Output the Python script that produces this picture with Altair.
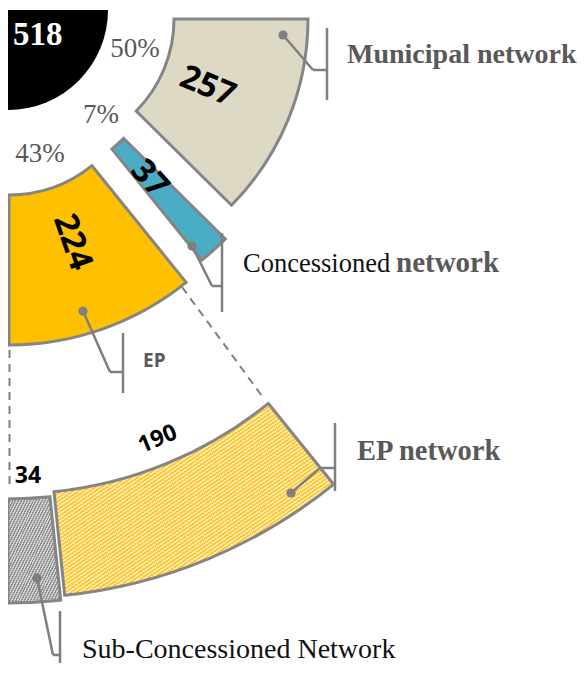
import math
import altair as alt
import pandas as pd

# ---------------- data ----------------
categories = ["Municipal network", "Concessioned network", "EP"]
values = [257, 37, 224]
ep_parts = ["EP network", "Sub-Concessioned Network"]
ep_part_values = [190, 34]

total = sum(values)
rows = []
acc = 0
for c, v in zip(categories, values):
    rows.append(dict(cat=c, value=v, start=acc / total, end=(acc + v) / total,
                     pct=f"{round(v / total * 100)}%"))
    acc += v
acc = rows[2]["start"] * total          # EP breakdown spans the EP slice
for c, v in zip(ep_parts, ep_part_values):
    rows.append(dict(cat=c, value=v, start=acc / total, end=(acc + v) / total, pct=""))
    acc += v
rows.append(dict(cat="Total", value=total, start=0.0, end=1.0, pct=""))
df = pd.DataFrame(rows)
df["mid"] = (df["start"] + df["end"]) / 2
df["label"] = df["value"].astype(str)
df["radial_angle"] = df["mid"] * 90                      # text along the radius
df["tangent_angle"] = (df["mid"] * 90 - 90) % 360         # text along the arc

# ---------------- styling ----------------
OFF = 8                      # page margin
W, H = 572, 655
STROKE = "#858585"
GREY_TXT = "#595959"
SERIF = "Liberation Serif"
SANS = "Open Sans"
theta_scale = alt.Scale(domain=[0, 1], range=[math.pi / 2, math.pi])
one = pd.DataFrame({"k": [0]})


def hatch(c1, c2, n):
    stops = []
    for i in range(n):
        a, b, c = i / n, (i + 0.5) / n, (i + 1) / n
        stops += [alt.GradientStop(offset=a, color=c1), alt.GradientStop(offset=b, color=c1),
                  alt.GradientStop(offset=b, color=c2), alt.GradientStop(offset=c, color=c2)]
    return alt.LinearGradient(gradient="linear", stops=stops, x1=0, y1=0, x2=1, y2=1)


def P(v):
    return v - OFF


def sector(cat, cx, cy, r_in, r_out, fill, stroke=STROKE, sw=3):
    return alt.Chart(df).transform_filter(alt.datum.cat == cat).mark_arc(
        innerRadius=r_in, outerRadius=r_out, fill=fill,
        stroke=stroke, strokeWidth=sw, strokeJoin="miter"
    ).encode(
        theta=alt.Theta("start:Q", scale=theta_scale, stack=None),
        theta2="end:Q",
        x=alt.value(P(cx)), y=alt.value(P(cy)),
    )


def value_label(cat, cx, cy, r, size, angle_field=None, color="black"):
    enc = dict(
        theta=alt.Theta("mid:Q", scale=theta_scale, stack=None),
        text="label:N",
        x=alt.value(P(cx)), y=alt.value(P(cy)),
    )
    if angle_field:
        enc["angle"] = alt.Angle(f"{angle_field}:Q", scale=None)
    return alt.Chart(df).transform_filter(alt.datum.cat == cat).mark_text(
        radius=r, font=SANS, fontWeight="bold", fontSize=size, color=color,
        align="center", baseline="middle"
    ).encode(**enc)


def field_text(cat, field, x, y, size, color, weight="normal", font=SERIF, align="center",
               baseline="middle"):
    return alt.Chart(df).transform_filter(alt.datum.cat == cat).mark_text(
        font=font, fontSize=size, color=color, fontWeight=weight, align=align, baseline=baseline
    ).encode(text=f"{field}:N", x=alt.value(P(x)), y=alt.value(P(y)))


def plain_text(txt, x, y, size, color, weight="normal", font=SERIF, align="left",
               baseline="alphabetic"):
    return alt.Chart(one).mark_text(
        text=txt, font=font, fontSize=size, color=color, fontWeight=weight,
        align=align, baseline=baseline
    ).encode(x=alt.value(P(x)), y=alt.value(P(y)))


def seg(x1, y1, x2, y2, dash=None, sw=2.5, color="#7F7F7F"):
    kw = dict(color=color, strokeWidth=sw)
    if dash:
        kw["strokeDash"] = dash
    return alt.Chart(one).mark_rule(**kw).encode(
        x=alt.value(P(x1)), y=alt.value(P(y1)), x2=alt.value(P(x2)), y2=alt.value(P(y2)))


def dot(x, y):
    return alt.Chart(one).mark_circle(size=85, color="#7F7F7F", opacity=1).encode(
        x=alt.value(P(x)), y=alt.value(P(y)))


def callout(d, pts, bar):
    out = [dot(*d)]
    prev = d
    for p in pts:
        out.append(seg(prev[0], prev[1], p[0], p[1]))
        prev = p
    out.append(seg(bar[0], bar[1], bar[0], bar[2]))
    return out


layers = []
# total quarter disc
layers.append(sector("Total", 8, 10, 0, 100, "#000000", stroke="#000000", sw=0))
# exploded slices
layers.append(sector("Municipal network", 43, 19, 131, 265, "#DDD9C4"))
layers.append(sector("Concessioned network", 24, 40, 140, 283, "#4BACC6"))
layers.append(sector("EP", 9, 63, 132, 282, "#FFC000"))
# EP breakdown ring (hatched)
layers.append(sector("Sub-Concessioned Network", 8, 91, 408, 512,
                     hatch("#8F8F8F", "#D4D4D4", 36)))
layers.append(sector("EP network", 12, 86, 408, 512, hatch("#FFC830", "#FFEBAE", 100)))

# dashed connectors
layers.append(seg(182, 287, 262, 396, dash=[8, 6], sw=2))
layers.append(seg(9.5, 350, 9.5, 490, dash=[8, 6], sw=2))

# value labels
layers.append(value_label("Municipal network", 43, 19, 178, 33, "radial_angle"))
layers.append(value_label("Concessioned network", 24, 40, 187, 33, "radial_angle"))
layers.append(value_label("EP", 9, 63, 190, 33, "radial_angle"))
layers.append(value_label("EP network", 12, 86, 382, 23, "tangent_angle"))
layers.append(value_label("Sub-Concessioned Network", 8, 91, 386, 23))

# total + percentages
layers.append(alt.Chart(df).transform_filter(alt.datum.cat == "Total").mark_text(
    font=SERIF, fontSize=33, color="white", fontWeight="bold", align="left",
    baseline="alphabetic").encode(text="label:N", x=alt.value(P(13)), y=alt.value(P(45))))
layers.append(field_text("Municipal network", "pct", 135, 49, 27, GREY_TXT))
layers.append(field_text("Concessioned network", "pct", 101, 115, 27, GREY_TXT))
layers.append(field_text("EP", "pct", 40, 154, 27, GREY_TXT))

# callouts
layers += callout((283, 35), [(313, 70), (327, 70)], (327, 28, 100))
layers += callout((192, 246), [(212, 286), (222, 286)], (222, 233, 312))
layers += callout((83, 311), [(110, 372), (123, 372)], (123, 333, 393))
layers += callout((291, 493), [(320, 468), (335, 468)], (335, 423, 491))
layers += callout((37, 578), [(53, 655), (60, 655)], (60, 611, 680))

# legend texts
layers.append(plain_text("Municipal network", 347, 63, 28, GREY_TXT, weight="bold"))
layers.append(plain_text("Concessioned", 243, 272, 26.5, "#111111"))
layers.append(plain_text("network", 396, 272, 29, GREY_TXT, weight="bold"))
layers.append(plain_text("EP", 143, 367, 19, GREY_TXT, weight="bold", font=SANS))
layers.append(plain_text("EP network", 357, 460, 28.5, GREY_TXT, weight="bold"))
layers.append(plain_text("Sub-Concessioned Network", 82, 658, 28, "#111111"))

chart = alt.layer(*layers).properties(
    width=W, height=H, padding=0,
    autosize=alt.AutoSizeParams(type="none"),
).configure_view(stroke=None)

chart.save("out.html", embed_options={"renderer": "svg", "actions": False})
